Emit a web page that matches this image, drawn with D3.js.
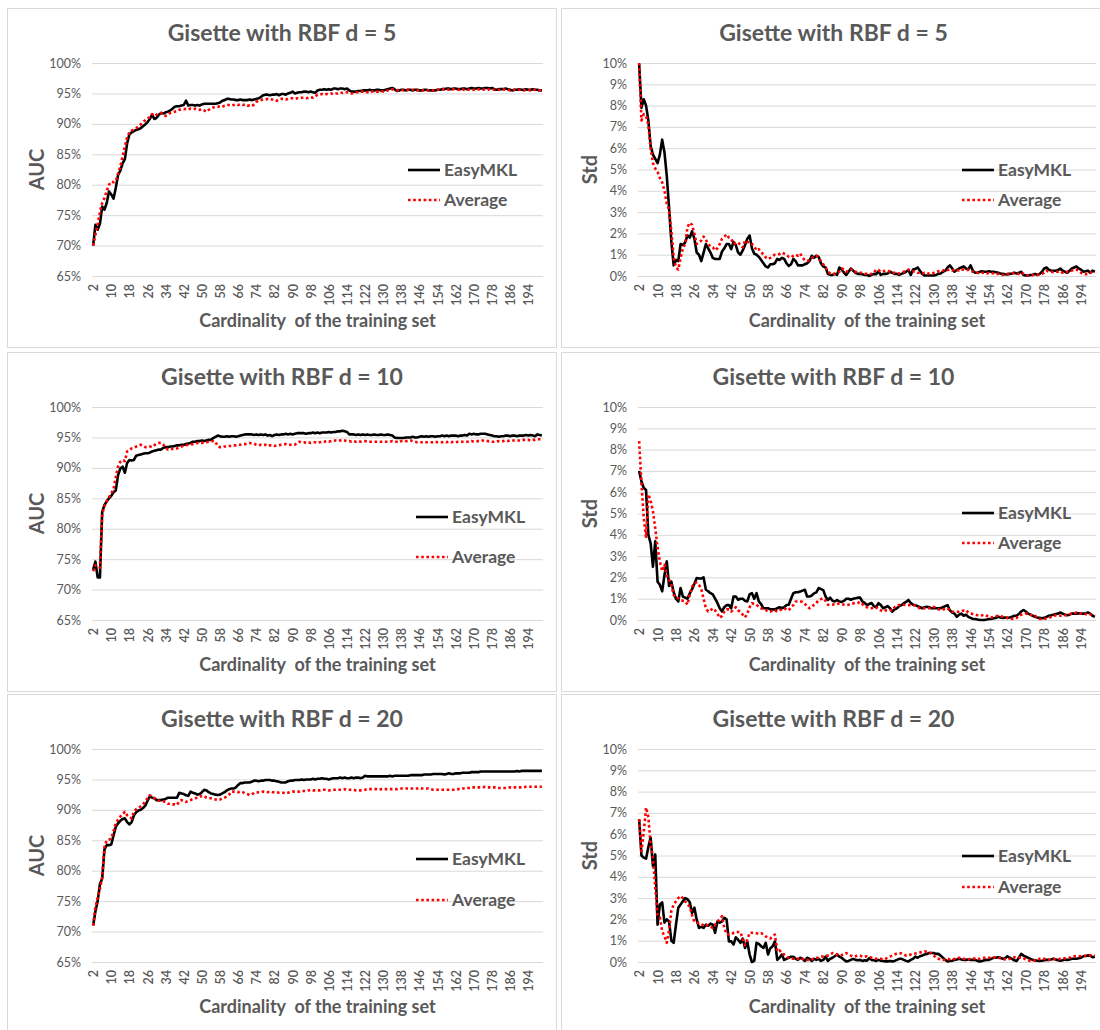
<!DOCTYPE html>
<html>
<head>
<meta charset="utf-8">
<script src="https://cdn.jsdelivr.net/npm/d3@7"></script>
<style>
  body { margin: 0; background: #fff; }
  svg text { font-family: Lato, "Open Sans", "Liberation Sans", sans-serif; fill: #595959; white-space: pre; }
</style>
</head>
<body>
<svg id="chart" width="1100" height="1030"></svg>
<script>
// ---------- categories and tick labels ----------
const cardinality = d3.range(2, 201);          // training-set sizes 2 … 200
const xTickLabels = [2, 10, 18, 26, 34, 42, 50, 58, 66, 74, 82, 90, 98, 106, 114, 122, 130, 138, 146, 154, 162, 170, 178, 186, 194];
const aucTicks = [65, 70, 75, 80, 85, 90, 95, 100];
const stdTicks = [0, 1, 2, 3, 4, 5, 6, 7, 8, 9, 10];
const seriesNames = ["EasyMKL", "Average"];
const panelTitles = ["Gisette with RBF d = 5", "Gisette with RBF d = 10", "Gisette with RBF d = 20"];
const xTitle = "Cardinality  of the training set";

// ---------- AUC (%) , d = 5 ----------
const aucEasyD5 = [
  70.0,73.4,72.6,73.6,76.4,75.9,77.0,78.9,78.4,77.7,
  79.5,81.6,82.3,83.5,84.2,86.8,88.3,88.6,88.8,89.0,
  89.1,89.3,89.6,89.9,90.3,90.8,91.5,90.8,91.0,91.5,
  91.8,91.7,91.9,92.0,92.2,92.5,92.8,92.9,92.9,93.0,
  93.1,93.8,93.0,93.1,93.1,93.0,93.1,93.0,93.2,93.3,
  93.3,93.3,93.3,93.3,93.3,93.4,93.5,93.8,93.9,94.1,
  94.1,94.0,94.0,93.9,93.9,94.0,93.9,93.9,93.9,94.0,
  93.9,94.0,94.1,94.2,94.4,94.7,94.8,94.8,94.7,94.8,
  94.8,94.9,94.7,94.9,94.9,94.8,95.0,95.1,95.3,95.0,
  95.1,95.2,95.2,95.3,95.3,95.2,95.3,95.2,95.1,95.5,
  95.6,95.6,95.7,95.6,95.7,95.6,95.8,95.8,95.7,95.8,
  95.8,95.7,95.8,95.5,95.3,95.3,95.3,95.4,95.4,95.5,
  95.5,95.5,95.6,95.5,95.5,95.6,95.6,95.5,95.5,95.6,
  95.7,95.8,95.9,95.7,95.4,95.5,95.6,95.6,95.5,95.6,
  95.6,95.5,95.6,95.6,95.5,95.5,95.6,95.6,95.5,95.5,
  95.5,95.5,95.6,95.6,95.7,95.7,95.8,95.8,95.7,95.8,
  95.8,95.7,95.7,95.8,95.8,95.7,95.8,95.9,95.8,95.8,
  95.9,95.8,95.8,95.9,95.9,95.8,95.9,95.7,95.6,95.7,
  95.7,95.7,95.8,95.7,95.6,95.5,95.6,95.6,95.7,95.6,
  95.6,95.7,95.6,95.6,95.7,95.6,95.6,95.5,95.5
];
const aucAvgD5 = [
  70.0,71.8,73.5,75.5,77.0,77.8,79.0,80.0,80.5,80.4,
  80.6,81.8,83.0,84.6,86.3,87.8,88.6,88.9,89.1,89.3,
  89.6,89.9,90.3,90.6,90.9,91.1,91.6,91.3,91.5,91.7,
  91.8,91.6,91.3,91.5,91.8,91.9,92.0,92.1,92.3,92.4,
  92.4,92.5,92.4,92.5,92.4,92.5,92.4,92.3,92.4,92.2,
  92.0,92.3,92.5,92.7,92.8,92.8,92.9,92.8,93.0,93.1,
  93.1,93.0,93.1,93.2,93.1,93.2,93.1,93.2,93.0,93.0,
  92.9,93.2,93.6,93.8,93.9,94.0,94.0,94.1,94.1,94.0,
  94.0,93.8,94.0,94.1,94.1,94.0,94.1,94.2,94.2,94.1,
  94.2,94.2,94.3,94.3,94.2,94.3,94.4,94.3,94.5,94.8,
  94.8,94.9,94.8,94.9,94.9,95.0,94.9,95.0,95.0,95.1,
  95.1,95.2,95.2,95.1,95.0,95.1,95.2,95.2,95.3,95.3,
  95.3,95.2,95.3,95.3,95.4,95.3,95.3,95.4,95.3,95.4,
  95.5,95.6,95.7,95.6,95.5,95.6,95.6,95.5,95.6,95.6,
  95.5,95.6,95.6,95.5,95.6,95.5,95.5,95.6,95.5,95.6,
  95.5,95.5,95.6,95.6,95.7,95.7,95.7,95.6,95.7,95.7,
  95.7,95.6,95.6,95.7,95.5,95.6,95.6,95.5,95.6,95.6,
  95.7,95.6,95.6,95.7,95.6,95.7,95.6,95.6,95.5,95.6,
  95.6,95.7,95.6,95.6,95.5,95.6,95.6,95.5,95.6,95.6,
  95.5,95.6,95.6,95.5,95.6,95.6,95.5,95.5,95.5
];

// ---------- Std (%) , d = 5 ----------
const stdEasyD5 = [
  9.95,7.9,8.3,8.0,7.3,6.1,5.7,5.5,5.3,5.7,
  6.4,5.8,4.7,3.2,1.6,0.5,0.75,0.7,1.5,1.45,
  1.58,1.9,1.8,2.1,1.75,1.1,1.0,0.7,1.1,1.5,
  1.3,1.1,0.85,0.8,0.8,0.8,1.15,1.3,1.5,1.5,
  1.26,1.6,1.45,1.1,1.0,1.2,1.45,1.75,1.9,1.3,
  1.05,1.0,0.9,0.75,0.6,0.45,0.4,0.55,0.55,0.6,
  0.8,0.75,0.85,0.8,0.6,0.47,0.55,0.8,0.7,0.5,
  0.5,0.5,0.55,0.6,0.7,0.95,0.85,0.95,0.9,0.6,
  0.45,0.4,0.1,0.05,0.05,0.1,0.05,0.4,0.3,0.15,
  0.05,0.2,0.35,0.25,0.15,0.1,0.1,0.08,0.05,0.05,
  0.0,0.05,0.1,0.08,0.22,0.05,0.1,0.1,0.12,0.2,
  0.15,0.1,0.1,0.05,0.1,0.15,0.2,0.28,0.05,0.3,
  0.33,0.4,0.25,0.1,0.02,0.02,0.02,0.02,0.02,0.05,
  0.1,0.12,0.2,0.25,0.4,0.5,0.35,0.2,0.28,0.35,
  0.4,0.45,0.35,0.3,0.5,0.25,0.15,0.15,0.2,0.22,
  0.2,0.2,0.22,0.2,0.2,0.18,0.15,0.12,0.1,0.08,
  0.07,0.1,0.12,0.15,0.12,0.15,0.2,0.05,0.02,0.02,
  0.05,0.05,0.1,0.05,0.1,0.2,0.35,0.4,0.3,0.25,
  0.25,0.25,0.28,0.35,0.25,0.2,0.15,0.25,0.35,0.4,
  0.45,0.35,0.3,0.2,0.22,0.25,0.15,0.25,0.2
];
const stdAvgD5 = [
  10.0,7.3,7.6,7.5,7.1,6.0,5.3,5.05,4.9,4.6,
  4.4,4.0,3.4,3.1,2.1,0.9,0.4,0.3,0.85,1.3,
  1.5,2.3,2.5,2.4,2.0,1.5,1.6,1.66,1.85,1.7,
  1.5,1.4,1.35,1.2,1.3,1.5,1.75,1.85,1.95,1.8,
  1.75,1.5,1.55,1.58,1.45,1.34,1.66,1.6,1.58,1.5,
  1.4,1.2,1.26,1.1,1.03,0.87,0.8,0.85,0.95,1.0,
  1.0,1.03,1.1,1.05,1.0,0.9,0.87,0.95,1.0,0.95,
  1.05,0.85,0.75,0.7,0.75,0.85,0.9,0.95,0.85,0.7,
  0.55,0.4,0.25,0.11,0.1,0.1,0.15,0.2,0.35,0.3,
  0.2,0.25,0.3,0.3,0.2,0.15,0.15,0.15,0.1,0.1,
  0.08,0.1,0.15,0.3,0.28,0.2,0.22,0.25,0.25,0.2,
  0.15,0.15,0.12,0.12,0.15,0.2,0.25,0.3,0.25,0.22,
  0.2,0.15,0.15,0.12,0.15,0.15,0.1,0.1,0.15,0.2,
  0.22,0.2,0.25,0.3,0.28,0.3,0.25,0.3,0.3,0.25,
  0.3,0.3,0.28,0.3,0.25,0.2,0.15,0.15,0.12,0.15,
  0.15,0.12,0.15,0.15,0.12,0.1,0.1,0.05,0.05,0.08,
  0.1,0.1,0.12,0.15,0.12,0.1,0.15,0.1,0.05,0.03,
  0.03,0.05,0.05,0.05,0.08,0.1,0.15,0.25,0.2,0.2,
  0.18,0.2,0.2,0.22,0.15,0.15,0.2,0.2,0.25,0.3,
  0.3,0.25,0.15,0.1,0.08,0.1,0.15,0.2,0.2
];

// ---------- AUC (%) , d = 10 ----------
const aucEasyD10 = [
  73.3,74.6,72.0,72.0,82.8,83.9,84.5,85.0,85.4,86.0,
  86.3,88.8,89.9,90.2,89.2,90.8,91.3,91.2,91.3,92.0,
  92.1,92.2,92.3,92.4,92.4,92.5,92.7,92.8,92.9,93.0,
  93.0,93.3,93.4,93.4,93.5,93.5,93.6,93.7,93.7,93.8,
  93.8,93.9,94.0,94.1,94.3,94.3,94.4,94.4,94.5,94.4,
  94.5,94.6,94.6,94.9,95.1,95.3,95.2,95.1,95.1,95.2,
  95.1,95.2,95.2,95.1,95.2,95.3,95.4,95.5,95.5,95.5,
  95.5,95.4,95.5,95.4,95.5,95.4,95.5,95.3,95.4,95.2,
  95.4,95.5,95.4,95.5,95.5,95.6,95.5,95.6,95.5,95.6,
  95.7,95.7,95.7,95.7,95.6,95.7,95.7,95.8,95.7,95.8,
  95.7,95.8,95.8,95.8,95.9,95.8,95.9,95.9,96.0,96.0,
  96.1,96.0,95.9,95.5,95.5,95.5,95.4,95.5,95.4,95.5,
  95.4,95.5,95.4,95.4,95.5,95.4,95.4,95.5,95.4,95.4,
  95.5,95.4,95.3,95.0,94.9,94.9,94.9,94.9,95.0,95.0,
  95.0,95.1,95.0,95.0,95.1,95.2,95.1,95.2,95.1,95.2,
  95.2,95.1,95.2,95.2,95.3,95.2,95.3,95.2,95.3,95.3,
  95.3,95.2,95.3,95.3,95.4,95.3,95.6,95.5,95.6,95.5,
  95.5,95.6,95.6,95.6,95.5,95.4,95.3,95.2,95.2,95.1,
  95.2,95.2,95.3,95.3,95.2,95.3,95.3,95.2,95.3,95.3,
  95.3,95.4,95.3,95.4,95.3,95.2,95.5,95.4,95.3
];
const aucAvgD10 = [
  73.0,74.0,73.7,73.6,82.4,83.7,84.5,85.2,85.8,86.5,
  88.5,90.2,91.0,91.3,91.1,92.7,92.9,93.2,93.3,93.5,
  93.6,93.8,93.6,93.4,93.4,93.5,93.4,93.7,94.0,94.1,
  94.1,93.8,93.3,93.0,93.1,93.1,93.1,93.2,93.4,93.5,
  93.6,93.7,93.8,93.9,93.9,94.0,94.1,94.1,94.1,94.2,
  94.2,94.3,94.3,94.4,94.3,93.5,93.4,93.4,93.5,93.5,
  93.6,93.6,93.7,93.7,93.8,93.8,93.9,93.9,94.0,94.1,
  94.0,94.0,93.8,93.7,93.8,93.7,93.8,93.6,93.7,93.7,
  93.6,93.7,93.7,93.8,93.8,93.9,93.8,93.8,93.7,93.8,
  94.1,94.3,94.2,94.2,94.1,94.2,94.1,94.2,94.2,94.1,
  94.2,94.3,94.3,94.4,94.3,94.4,94.5,94.5,94.4,94.5,
  94.6,94.5,94.4,94.4,94.3,94.4,94.3,94.4,94.3,94.4,
  94.4,94.3,94.3,94.3,94.3,94.3,94.3,94.3,94.3,94.3,
  94.3,94.3,94.4,94.3,94.3,94.2,94.4,94.5,94.4,94.4,
  94.5,94.4,94.3,94.2,94.2,94.2,94.3,94.2,94.2,94.2,
  94.2,94.3,94.2,94.2,94.2,94.3,94.2,94.3,94.2,94.3,
  94.2,94.3,94.3,94.3,94.3,94.3,94.3,94.4,94.3,94.4,
  94.4,94.4,94.5,94.5,94.4,94.4,94.3,94.3,94.3,94.4,
  94.4,94.4,94.5,94.4,94.5,94.5,94.5,94.5,94.5,94.6,
  94.6,94.6,94.6,94.5,94.6,94.6,94.7,94.7,94.7
];

// ---------- Std (%) , d = 10 ----------
const stdEasyD10 = [
  7.0,6.5,6.2,6.1,4.0,3.6,2.5,3.7,1.8,1.65,
  1.35,2.1,2.75,1.6,1.8,1.3,1.0,0.87,1.5,1.1,
  1.05,1.0,1.25,1.45,1.7,1.97,1.95,1.95,2.0,1.42,
  1.35,1.26,1.2,1.0,0.8,0.55,0.4,0.6,0.7,0.7,
  0.55,1.1,1.1,0.95,1.0,1.0,0.9,0.87,1.2,1.26,
  1.0,1.26,0.87,0.75,0.55,0.55,0.55,0.5,0.5,0.5,
  0.55,0.6,0.55,0.6,0.7,0.72,1.0,1.26,1.3,1.3,
  1.34,1.38,1.42,1.1,1.1,1.15,1.25,1.3,1.5,1.45,
  1.4,1.1,0.94,1.05,0.9,0.87,0.94,0.87,0.85,0.9,
  1.0,1.0,0.95,1.0,1.02,1.05,1.05,0.87,0.8,0.7,
  0.75,0.8,0.65,0.6,0.79,0.7,0.55,0.6,0.65,0.55,
  0.39,0.5,0.55,0.65,0.7,0.79,0.85,0.94,0.8,0.72,
  0.7,0.65,0.6,0.55,0.6,0.62,0.6,0.55,0.55,0.55,
  0.55,0.55,0.6,0.65,0.7,0.45,0.35,0.3,0.15,0.25,
  0.3,0.2,0.25,0.15,0.1,0.05,0.05,0.02,0.0,0.0,
  0.0,0.02,0.05,0.05,0.08,0.1,0.15,0.12,0.1,0.12,
  0.1,0.12,0.15,0.2,0.2,0.28,0.4,0.47,0.4,0.3,
  0.25,0.2,0.15,0.12,0.1,0.08,0.1,0.15,0.2,0.22,
  0.25,0.28,0.3,0.35,0.3,0.25,0.22,0.25,0.3,0.3,
  0.3,0.32,0.3,0.3,0.32,0.35,0.3,0.2,0.15
];
const stdAvgD10 = [
  8.4,6.4,4.8,3.9,5.9,5.6,5.1,4.3,3.4,2.75,
  2.3,2.6,2.1,1.9,1.65,1.18,1.05,1.02,0.94,0.9,
  0.87,0.72,1.2,1.55,1.75,1.75,1.65,1.45,1.0,0.55,
  0.4,0.45,0.55,0.45,0.31,0.1,0.2,0.39,0.5,0.5,
  0.39,0.5,0.6,0.45,0.39,0.25,0.12,0.3,0.6,0.79,
  0.75,0.72,0.6,0.55,0.5,0.47,0.4,0.39,0.45,0.45,
  0.39,0.45,0.5,0.55,0.5,0.45,0.6,0.7,0.87,0.87,
  0.87,0.85,0.75,0.65,0.55,0.6,0.72,0.8,0.94,0.98,
  1.02,0.9,0.72,0.7,0.72,0.75,0.75,0.78,0.75,0.72,
  0.7,0.72,0.75,0.78,0.8,0.8,0.85,0.75,0.65,0.6,
  0.55,0.55,0.6,0.6,0.5,0.45,0.4,0.45,0.47,0.47,
  0.45,0.6,0.68,0.7,0.7,0.72,0.7,0.7,0.7,0.7,
  0.68,0.62,0.55,0.55,0.55,0.55,0.55,0.6,0.62,0.55,
  0.5,0.47,0.5,0.52,0.55,0.45,0.39,0.39,0.39,0.39,
  0.4,0.45,0.47,0.35,0.3,0.28,0.25,0.22,0.2,0.22,
  0.25,0.2,0.15,0.12,0.15,0.18,0.2,0.18,0.15,0.12,
  0.1,0.08,0.05,0.1,0.1,0.2,0.25,0.25,0.3,0.3,
  0.25,0.2,0.2,0.1,0.05,0.05,0.05,0.08,0.1,0.15,
  0.2,0.22,0.2,0.2,0.2,0.22,0.25,0.27,0.3,0.3,
  0.35,0.32,0.3,0.3,0.28,0.25,0.27,0.25,0.2
];

// ---------- AUC (%) , d = 20 ----------
const aucEasyD20 = [
  71.0,73.3,75.0,77.8,78.7,83.5,84.2,84.2,84.3,85.8,
  87.2,87.8,88.2,88.5,88.6,88.0,87.6,88.0,89.1,89.6,
  89.9,90.0,90.3,90.7,91.5,92.2,92.0,91.9,91.6,91.6,
  91.6,91.7,91.8,92.0,92.0,92.0,92.0,92.0,92.8,92.7,
  92.6,92.4,92.3,93.0,92.8,92.7,92.5,92.6,92.9,93.3,
  93.2,92.9,92.7,92.6,92.5,92.45,92.5,92.7,92.9,93.2,
  93.4,93.5,93.5,93.7,94.1,94.4,94.4,94.5,94.5,94.5,
  94.6,94.8,94.8,94.7,94.8,94.8,94.9,94.9,94.9,94.8,
  94.8,94.7,94.6,94.5,94.5,94.5,94.7,94.8,94.8,94.9,
  94.9,94.9,95.0,94.9,95.0,95.0,95.0,95.1,95.0,95.1,
  95.1,95.2,95.1,95.1,95.0,95.1,95.2,95.2,95.2,95.3,
  95.2,95.3,95.2,95.2,95.3,95.2,95.3,95.3,95.2,95.3,
  95.6,95.5,95.5,95.5,95.5,95.5,95.5,95.5,95.5,95.5,
  95.5,95.6,95.5,95.6,95.6,95.6,95.6,95.6,95.6,95.6,
  95.7,95.7,95.7,95.7,95.7,95.7,95.8,95.8,95.8,95.8,
  95.9,95.9,95.9,95.9,95.9,95.8,95.9,96.0,95.9,95.9,
  96.0,96.0,96.0,96.1,96.1,96.1,96.1,96.2,96.2,96.2,
  96.2,96.3,96.3,96.3,96.3,96.3,96.3,96.3,96.3,96.3,
  96.3,96.3,96.3,96.3,96.3,96.3,96.3,96.4,96.3,96.4,
  96.4,96.4,96.4,96.4,96.4,96.4,96.4,96.4,96.4
];
const aucAvgD20 = [
  71.0,74.0,75.5,77.0,79.0,83.9,85.0,85.1,85.3,86.5,
  87.8,88.4,88.9,89.2,89.7,89.1,88.8,88.6,89.7,90.1,
  90.3,90.6,90.9,91.4,91.9,92.4,92.2,91.9,91.7,91.5,
  91.5,91.4,91.3,91.0,91.0,90.9,90.9,90.8,91.4,91.6,
  91.4,91.3,91.5,91.6,91.8,91.9,92.0,92.1,92.3,92.3,
  92.0,91.9,91.9,91.8,91.7,91.6,91.7,91.9,92.0,92.2,
  92.5,93.0,93.0,93.0,92.9,93.0,92.9,92.7,92.6,92.45,
  92.5,92.8,92.8,92.9,92.9,93.0,92.9,92.9,93.0,92.9,
  92.9,92.9,92.8,92.8,92.8,92.7,92.8,92.9,93.0,93.0,
  93.0,93.0,93.1,93.1,93.1,93.2,93.3,93.2,93.2,93.2,
  93.2,93.3,93.3,93.3,93.2,93.3,93.3,93.3,93.3,93.3,
  93.3,93.4,93.3,93.3,93.3,93.3,93.2,93.2,93.2,93.2,
  93.3,93.4,93.4,93.4,93.4,93.4,93.3,93.4,93.4,93.4,
  93.4,93.4,93.4,93.4,93.4,93.5,93.5,93.5,93.5,93.5,
  93.5,93.5,93.5,93.5,93.6,93.5,93.5,93.5,93.5,93.4,
  93.3,93.3,93.3,93.3,93.3,93.3,93.3,93.3,93.3,93.3,
  93.3,93.4,93.4,93.5,93.5,93.6,93.6,93.7,93.7,93.7,
  93.7,93.7,93.7,93.8,93.7,93.7,93.7,93.7,93.7,93.6,
  93.6,93.6,93.6,93.6,93.7,93.7,93.7,93.7,93.7,93.7,
  93.7,93.8,93.8,93.8,93.8,93.8,93.8,93.8,93.8
];

// ---------- Std (%) , d = 20 ----------
const stdEasyD20 = [
  6.7,5.0,4.9,4.85,5.4,5.85,4.5,5.05,1.75,2.7,
  2.8,1.85,2.0,1.9,1.0,0.9,1.75,2.55,2.7,2.85,
  3.0,2.95,2.8,2.3,2.55,2.0,1.6,1.65,1.6,1.75,
  1.7,1.8,1.75,1.37,1.9,1.85,1.9,2.07,2.0,0.97,
  0.97,0.82,1.16,1.05,0.9,1.1,0.66,0.95,0.35,0.0,
  0.05,0.9,0.85,0.74,0.66,0.9,0.35,0.65,0.74,0.97,
  0.1,0.2,0.35,0.1,0.15,0.2,0.25,0.25,0.15,0.1,
  0.2,0.15,0.05,0.2,0.15,0.05,0.15,0.1,0.15,0.05,
  0.1,0.25,0.05,0.15,0.2,0.27,0.35,0.25,0.2,0.1,
  0.03,0.05,0.1,0.15,0.1,0.08,0.1,0.05,0.08,0.06,
  0.18,0.1,0.08,0.05,0.1,0.06,0.05,0.03,0.03,0.05,
  0.03,0.05,0.1,0.15,0.15,0.1,0.05,0.03,0.1,0.15,
  0.25,0.2,0.27,0.3,0.35,0.38,0.42,0.42,0.42,0.38,
  0.38,0.3,0.2,0.1,0.02,0.05,0.06,0.1,0.12,0.15,
  0.12,0.1,0.1,0.12,0.1,0.1,0.1,0.05,0.02,0.05,
  0.08,0.1,0.1,0.15,0.2,0.2,0.22,0.2,0.15,0.18,
  0.27,0.2,0.15,0.08,0.05,0.2,0.38,0.3,0.25,0.2,
  0.15,0.1,0.08,0.06,0.05,0.06,0.08,0.1,0.1,0.12,
  0.15,0.12,0.08,0.06,0.08,0.12,0.1,0.12,0.15,0.15,
  0.15,0.18,0.2,0.27,0.28,0.31,0.3,0.22,0.25
];
const stdAvgD20 = [
  6.7,5.2,6.1,7.25,6.8,5.5,4.9,3.5,2.2,2.1,
  1.45,1.2,0.9,1.5,2.4,2.7,2.85,3.0,3.1,3.0,
  2.85,2.7,2.6,2.2,1.9,1.85,1.82,1.8,1.7,1.75,
  1.7,1.65,1.6,1.75,1.9,2.0,2.15,1.6,1.3,1.29,
  1.3,1.37,1.4,1.41,1.4,1.1,0.8,1.05,1.37,1.37,
  1.37,1.35,1.32,1.35,1.3,1.2,1.15,1.1,1.2,1.29,
  0.5,0.55,0.4,0.35,0.25,0.2,0.15,0.15,0.12,0.15,
  0.2,0.15,0.1,0.1,0.08,0.12,0.15,0.2,0.2,0.25,
  0.27,0.3,0.3,0.35,0.42,0.4,0.35,0.3,0.32,0.38,
  0.42,0.35,0.3,0.25,0.27,0.3,0.3,0.25,0.25,0.27,
  0.25,0.2,0.18,0.15,0.15,0.15,0.12,0.15,0.2,0.25,
  0.3,0.35,0.4,0.42,0.4,0.35,0.3,0.3,0.35,0.38,
  0.4,0.42,0.45,0.48,0.5,0.48,0.45,0.4,0.3,0.2,
  0.15,0.12,0.1,0.12,0.15,0.12,0.1,0.15,0.18,0.2,
  0.18,0.15,0.12,0.12,0.15,0.18,0.15,0.12,0.15,0.18,
  0.2,0.22,0.2,0.18,0.2,0.22,0.2,0.18,0.15,0.12,
  0.1,0.15,0.2,0.22,0.2,0.2,0.22,0.18,0.12,0.08,
  0.05,0.05,0.08,0.1,0.15,0.18,0.15,0.12,0.1,0.12,
  0.15,0.12,0.12,0.15,0.15,0.18,0.2,0.2,0.25,0.27,
  0.27,0.27,0.27,0.28,0.3,0.3,0.32,0.3,0.3
];

// ---------- layout ----------
const svg = d3.select("#chart");
const rowTops = [8, 352, 694];
const colLefts = [7, 561];
const panelW = [550, 545];
const panelH = 340;

const panels = [
  { row: 0, col: 0, title: panelTitles[0], yTitle: "AUC", kind: "auc", easy: aucEasyD5,  avg: aucAvgD5,  legendY: [162, 192], legendX: 401 },
  { row: 0, col: 1, title: panelTitles[0], yTitle: "Std", kind: "std", easy: stdEasyD5,  avg: stdAvgD5,  legendY: [162, 192], legendX: 401 },
  { row: 1, col: 0, title: panelTitles[1], yTitle: "AUC", kind: "auc", easy: aucEasyD10, avg: aucAvgD10, legendY: [165, 205], legendX: 409 },
  { row: 1, col: 1, title: panelTitles[1], yTitle: "Std", kind: "std", easy: stdEasyD10, avg: stdAvgD10, legendY: [161, 191], legendX: 401 },
  { row: 2, col: 0, title: panelTitles[2], yTitle: "AUC", kind: "auc", easy: aucEasyD20, avg: aucAvgD20, legendY: [165, 206], legendX: 409 },
  { row: 2, col: 1, title: panelTitles[2], yTitle: "Std", kind: "std", easy: stdEasyD20, avg: stdAvgD20, legendY: [162, 193], legendX: 401 }
];

const seriesStyle = [
  { stroke: "#000000", width: 2.6, dash: null },
  { stroke: "#ff0000", width: 2.6, dash: "2.6,2.6" }
];

function drawPanel(p) {
  const w = panelW[p.col];
  const g = svg.append("g").attr("transform", `translate(${colLefts[p.col]},${rowTops[p.row]})`);

  g.append("rect")
    .attr("x", 0.5).attr("y", 0.5)
    .attr("width", w - 1).attr("height", panelH - 1)
    .attr("fill", "#fff").attr("stroke", "#d9d9d9").attr("stroke-width", 1);

  const plotL = p.col === 0 ? 85 : 77;
  const plotR = p.col === 0 ? 536 : 535;
  const plotT = 55, plotB = 268;

  const x = d3.scalePoint().domain(cardinality).range([plotL, plotR]).padding(0.5);
  const ticks = p.kind === "auc" ? aucTicks : stdTicks;
  const y = d3.scaleLinear().domain(d3.extent(ticks)).range([plotB, plotT]);

  // horizontal gridlines + percentage labels
  g.append("g")
    .attr("transform", `translate(${plotL},0)`)
    .call(d3.axisLeft(y).tickValues(ticks).tickSize(-(plotR - plotL)).tickPadding(11).tickFormat(d => d + "%"))
    .call(s => {
      s.select(".domain").remove();
      s.selectAll(".tick line").attr("stroke", "#d9d9d9").attr("stroke-width", 1);
      s.selectAll(".tick text").attr("font-size", 12.5).attr("fill", "#595959")
        .style("font-family", "Lato, 'Open Sans', sans-serif");
    });

  // category labels, rotated
  g.append("g")
    .attr("transform", `translate(0,${plotB})`)
    .call(d3.axisBottom(x).tickValues(xTickLabels).tickSize(0).tickPadding(0))
    .call(s => {
      s.select(".domain").remove();
      s.selectAll(".tick text")
        .attr("transform", "rotate(-90)")
        .attr("text-anchor", "end")
        .attr("x", -8).attr("y", 0).attr("dy", "0.36em")
        .attr("font-size", 12.5).attr("font-weight", 600).attr("fill", "#595959")
        .style("font-family", "Lato, 'Open Sans', sans-serif");
    });

  const line = d3.line()
    .x((d, i) => x(cardinality[i]))
    .y(d => y(d));

  [p.easy, p.avg].forEach((vals, k) => {
    const st = seriesStyle[k];
    g.append("path")
      .datum(vals)
      .attr("d", line)
      .attr("fill", "none")
      .attr("stroke", st.stroke)
      .attr("stroke-width", st.width)
      .attr("stroke-linejoin", "round")
      .attr("stroke-dasharray", st.dash);
  });

  // title
  g.append("text")
    .attr("x", w / 2).attr("y", 25).attr("dy", "0.35em")
    .attr("text-anchor", "middle")
    .attr("font-size", 23).attr("font-weight", 700)
    .text(p.title);

  // axis titles
  g.append("text")
    .attr("x", (plotL + plotR) / 2).attr("y", 313).attr("dy", "0.35em")
    .attr("text-anchor", "middle")
    .attr("font-size", 18).attr("font-weight", 700)
    .text(xTitle);

  g.append("text")
    .attr("transform", `translate(${p.col === 0 ? 30 : 29},${(plotT + plotB) / 2}) rotate(-90)`)
    .attr("dy", "0.35em")
    .attr("text-anchor", "middle")
    .attr("font-size", 20).attr("font-weight", 700)
    .text(p.yTitle);

  // legend
  seriesNames.forEach((name, k) => {
    const st = seriesStyle[k];
    const ly = p.legendY[k];
    g.append("line")
      .attr("x1", p.legendX).attr("x2", p.legendX + 32)
      .attr("y1", ly).attr("y2", ly)
      .attr("stroke", st.stroke).attr("stroke-width", st.width)
      .attr("stroke-dasharray", st.dash);
    g.append("text")
      .attr("x", p.legendX + 36).attr("y", ly).attr("dy", "0.35em")
      .attr("font-size", 17.5).attr("font-weight", 700)
      .text(name);
  });
}

panels.forEach(drawPanel);
</script>
</body>
</html>
